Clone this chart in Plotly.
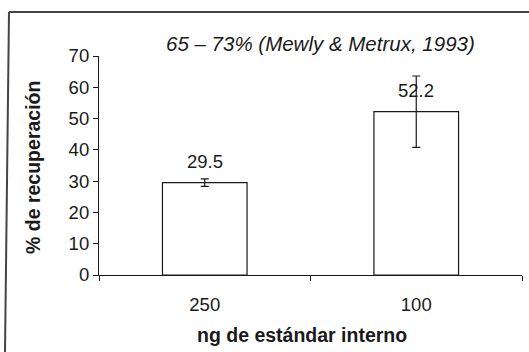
import plotly.graph_objects as go

# Recovery data per amount of internal standard
categories = ["250", "100"]
recovery = [29.5, 52.2]
recovery_err = [1.2, 11.4]
value_labels = ["29.5", "52.2"]
y_ticks = [0, 10, 20, 30, 40, 50, 60, 70]
reference_note = "65 – 73% (Mewly & Metrux, 1993)"

W, H = 529, 352
L, R, T, B = 99, 7, 56, 77
pw, ph = W - L - R, H - T - B

def px_x(x):
    return (x - L) / pw

def px_y(y):
    return (H - B - y) / ph

ink = "#1a1a1a"
font = "Liberation Sans, Arial, sans-serif"

fig = go.Figure(go.Bar(
    x=categories,
    y=recovery,
    width=0.4,
    marker=dict(color="white", line=dict(color=ink, width=1.2)),
    error_y=dict(type="data", array=recovery_err, visible=True,
                 color=ink, thickness=1.2, width=4),
    showlegend=False,
))

for i, (val, lab) in enumerate(zip(recovery, value_labels)):
    fig.add_annotation(x=i, y=val, text=lab, showarrow=False,
                       yshift=21, font=dict(size=18.5, color=ink, family=font))

def paper_text(x, y, text, size, angle=0):
    fig.add_annotation(x=px_x(x), y=px_y(y), xref="paper", yref="paper",
                       xanchor="center", yanchor="middle", textangle=angle,
                       text=text, showarrow=False,
                       font=dict(size=size, color=ink, family=font))

paper_text(320, 43, "<i>" + reference_note + "</i>", 20.5)

# Axis titles
paper_text(302, 335, "<b>ng de estándar interno</b>", 19.5)
paper_text(33, 168, "<b>% de recuperación</b>", 19.5, angle=-90)

# Frame lines on the top and left of the page
fig.add_shape(type="line", xref="paper", yref="paper",
              x0=px_x(9), y0=px_y(12), x1=px_x(529), y1=px_y(12),
              line=dict(color="#444", width=2))
fig.add_shape(type="line", xref="paper", yref="paper",
              x0=px_x(9), y0=px_y(12), x1=px_x(5), y1=px_y(352),
              line=dict(color="#444", width=2))

fig.update_layout(
    width=W, height=H,
    margin=dict(l=L, r=R, t=T, b=B, pad=0),
    paper_bgcolor="white", plot_bgcolor="white",
    font=dict(family=font, color=ink, size=18),
    xaxis=dict(
        type="category",
        range=[-0.5, 1.5], showline=True, linecolor=ink, linewidth=1.2,
        ticks="outside", tickson="boundaries", ticklen=5, tickcolor=ink,
        showgrid=False, zeroline=False, ticklabelstandoff=13,
        tickfont=dict(size=18.5),
    ),
    yaxis=dict(
        range=[0, 70], tickvals=y_ticks, showline=True, linecolor=ink, linewidth=1.2,
        ticks="outside", ticklen=5, tickcolor=ink, showgrid=False, zeroline=False,
        tickfont=dict(size=18.5),
    ),
)

fig.write_html("out.html")
